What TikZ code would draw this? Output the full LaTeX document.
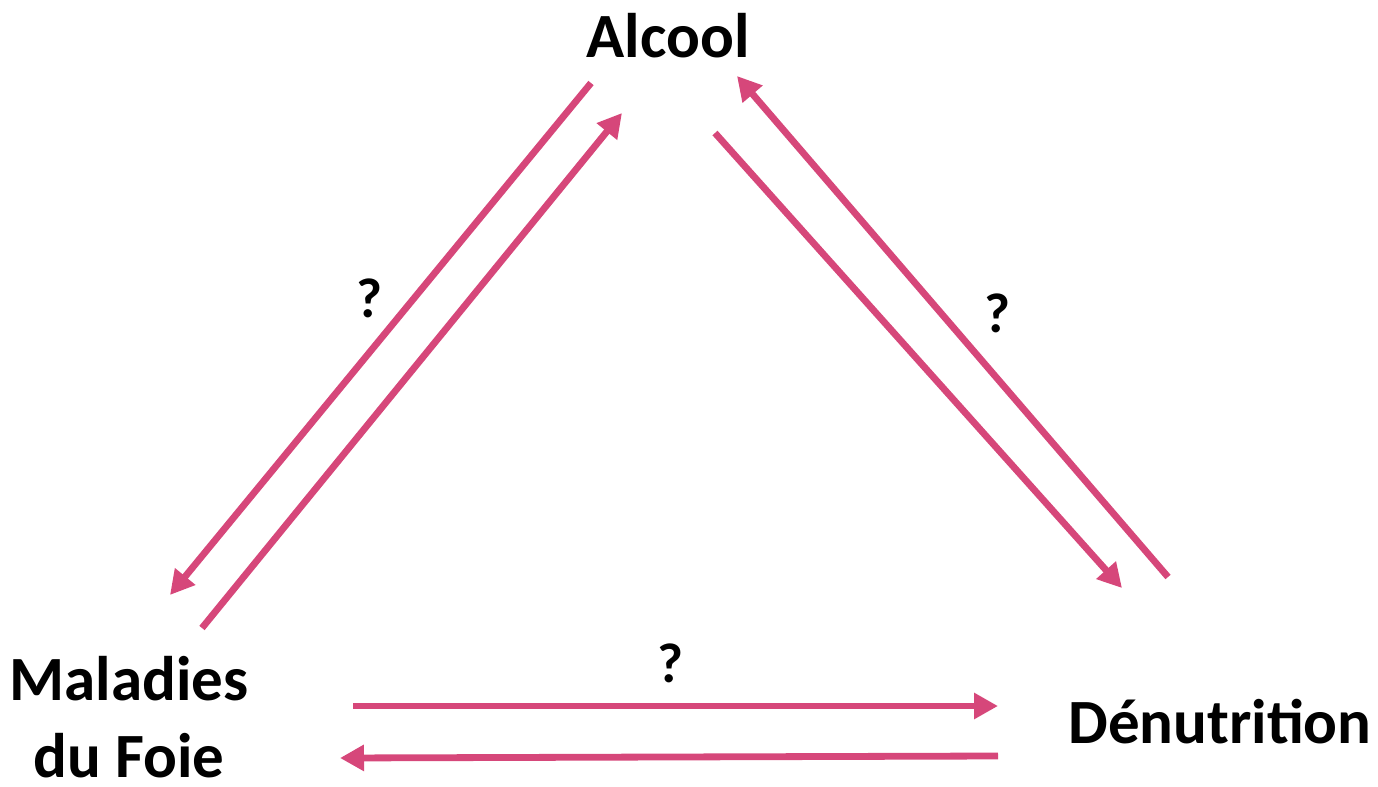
\documentclass[tikz,border=0pt]{standalone}
\usepackage{fontspec}
\setmainfont{Carlito}
\usetikzlibrary{arrows.meta}
\definecolor{rel}{RGB}{214,71,122}
\begin{document}
\begin{tikzpicture}[x=0.5pt,y=-0.5pt,
  lbl/.style={font=\bfseries\fontsize{31.5}{38.5}\selectfont, inner sep=0pt, align=center},
  qm/.style={font=\bfseries\fontsize{28}{32}\selectfont, inner sep=0pt},
  rarrow/.style={draw=rel, line width=3.4pt, -{Triangle[length=12pt,width=12.5pt]}}]
\useasboundingbox (0,0) rectangle (1378,787);
% factors
\node[lbl] (alc) at (668,36) {Alcool};
\node[lbl] (foie) at (129,717) {Maladies\\du Foie};
\node[lbl] (denut) at (1220,722) {Dénutrition};
% arrow end points
\coordinate (a1) at (591,83);   \coordinate (f1) at (170,595);
\coordinate (f2) at (202,628);  \coordinate (a2) at (622,113);
\coordinate (a3) at (715,133);  \coordinate (d3) at (1122,588);
\coordinate (d4) at (1168,577); \coordinate (a4) at (737,76);
\coordinate (f5) at (353,706);  \coordinate (d5) at (998,706);
\coordinate (d6) at (998,756);  \coordinate (f6) at (340,758);
% relations
\draw[rarrow] (a1) -- (f1);
\draw[rarrow] (f2) -- (a2);
\draw[rarrow] (a3) -- (d3);
\draw[rarrow] (d4) -- (a4);
\draw[rarrow] (f5) -- (d5);
\draw[rarrow] (d6) -- (f6);
% question marks
\node[qm] (q1) at (369,298) {?};
\node[qm] (q2) at (997,313) {?};
\node[qm] (q3) at (670,663) {?};
\end{tikzpicture}
\end{document}
